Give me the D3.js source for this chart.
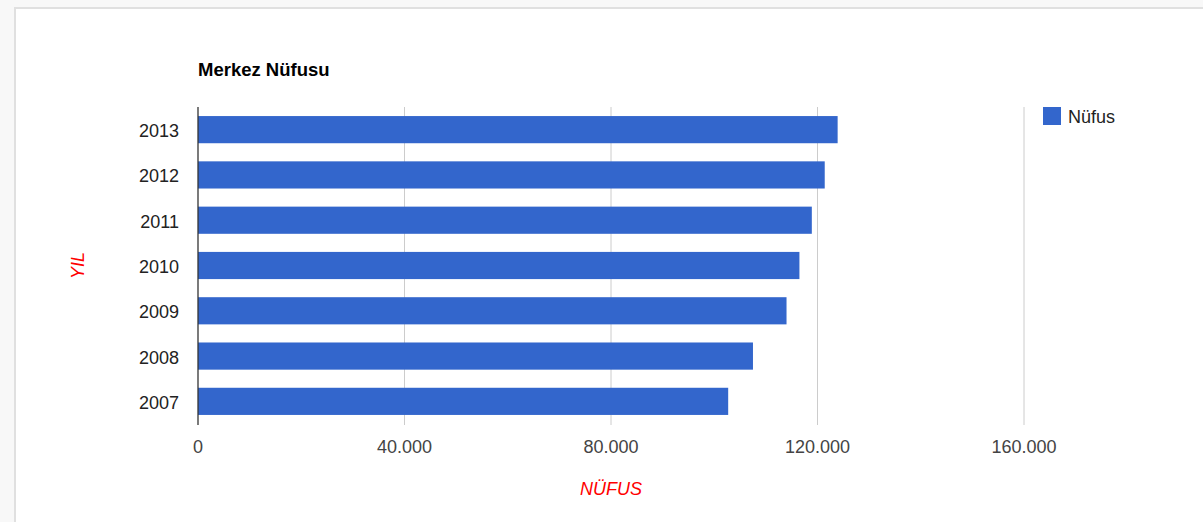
<!DOCTYPE html>
<html>
<head>
<meta charset="utf-8">
<script src="https://cdn.jsdelivr.net/npm/d3@7"></script>
<style>
  body { margin: 0; background: #f8f8f8; }
  #frame { position: absolute; left: 14px; top: 7px; width: 1200px; height: 530px;
           background: #fff; border: 2px solid #e0e0e0; box-sizing: border-box; }
  svg { position: absolute; left: 0; top: 0; }
</style>
</head>
<body>
<div id="frame"></div>
<div id="chart"></div>
<script>
// yıllar ve nüfus değerleri
const years = ["2013", "2012", "2011", "2010", "2009", "2008", "2007"];
const population = [123900, 121400, 118900, 116500, 114000, 107500, 102700];
const xTicks = [0, 40000, 80000, 120000, 160000];

const W = 1203, H = 522;
const plot = { left: 198, right: 1024, top: 107, bottom: 424 };
const font = "Arial, 'Liberation Sans', sans-serif";

const svg = d3.select("#chart").append("svg")
  .attr("width", W).attr("height", H);

const x = d3.scaleLinear().domain([0, 160000]).range([plot.left, plot.right]);
const y = d3.scaleBand().domain(years).range([plot.top, plot.bottom])
  .paddingInner(0.4).paddingOuter(0.2);

// turkish thousands separator
const fmt = d => d3.format(",")(d).replace(/,/g, ".");

// gridlines
svg.append("g").selectAll("line")
  .data(xTicks.slice(1))
  .join("line")
  .attr("x1", d => x(d)).attr("x2", d => x(d))
  .attr("y1", plot.top).attr("y2", plot.bottom + 1)
  .attr("stroke", "#cccccc").attr("stroke-width", 1);

// bars
svg.append("g").selectAll("rect")
  .data(years.map((yr, i) => ({ yr, v: population[i] })))
  .join("rect")
  .attr("x", x(0))
  .attr("y", d => y(d.yr))
  .attr("width", d => x(d.v) - x(0))
  .attr("height", y.bandwidth())
  .attr("fill", "#3366cc");

// baseline
svg.append("line")
  .attr("x1", x(0)).attr("x2", x(0))
  .attr("y1", plot.top).attr("y2", plot.bottom + 1)
  .attr("stroke", "#333").attr("stroke-width", 1.3);

// x axis labels
svg.append("g").selectAll("text")
  .data(xTicks)
  .join("text")
  .attr("x", d => x(d)).attr("y", 453)
  .attr("text-anchor", "middle")
  .style("font-family", font).style("font-size", "18px")
  .attr("fill", "#444")
  .text(fmt);

// y axis labels
svg.append("g").selectAll("text")
  .data(years)
  .join("text")
  .attr("x", 179)
  .attr("y", d => y(d) + y.bandwidth() / 2 + 7.5)
  .attr("text-anchor", "end")
  .style("font-family", font).style("font-size", "18px")
  .attr("fill", "#222")
  .text(d => d);

// title
svg.append("text")
  .attr("x", 198).attr("y", 76)
  .style("font-family", font).style("font-size", "18.5px")
  .style("font-weight", "bold")
  .attr("fill", "#000")
  .text("Merkez Nüfusu");

// axis titles
svg.append("text")
  .attr("x", (plot.left + plot.right) / 2).attr("y", 495)
  .attr("text-anchor", "middle")
  .style("font-family", font).style("font-size", "18px")
  .style("font-style", "italic")
  .attr("fill", "#ff0000")
  .text("NÜFUS");

svg.append("text")
  .attr("transform", `translate(84,${(plot.top + plot.bottom) / 2}) rotate(-90)`)
  .attr("text-anchor", "middle")
  .style("font-family", font).style("font-size", "18px")
  .style("font-style", "italic")
  .attr("fill", "#ff0000")
  .text("YIL");

// legend
const lg = svg.append("g").attr("transform", "translate(1043,107)");
lg.append("rect").attr("width", 18).attr("height", 18).attr("fill", "#3366cc");
lg.append("text")
  .attr("x", 25).attr("y", 16)
  .style("font-family", font).style("font-size", "18px")
  .attr("fill", "#222")
  .text("Nüfus");
</script>
</body>
</html>
